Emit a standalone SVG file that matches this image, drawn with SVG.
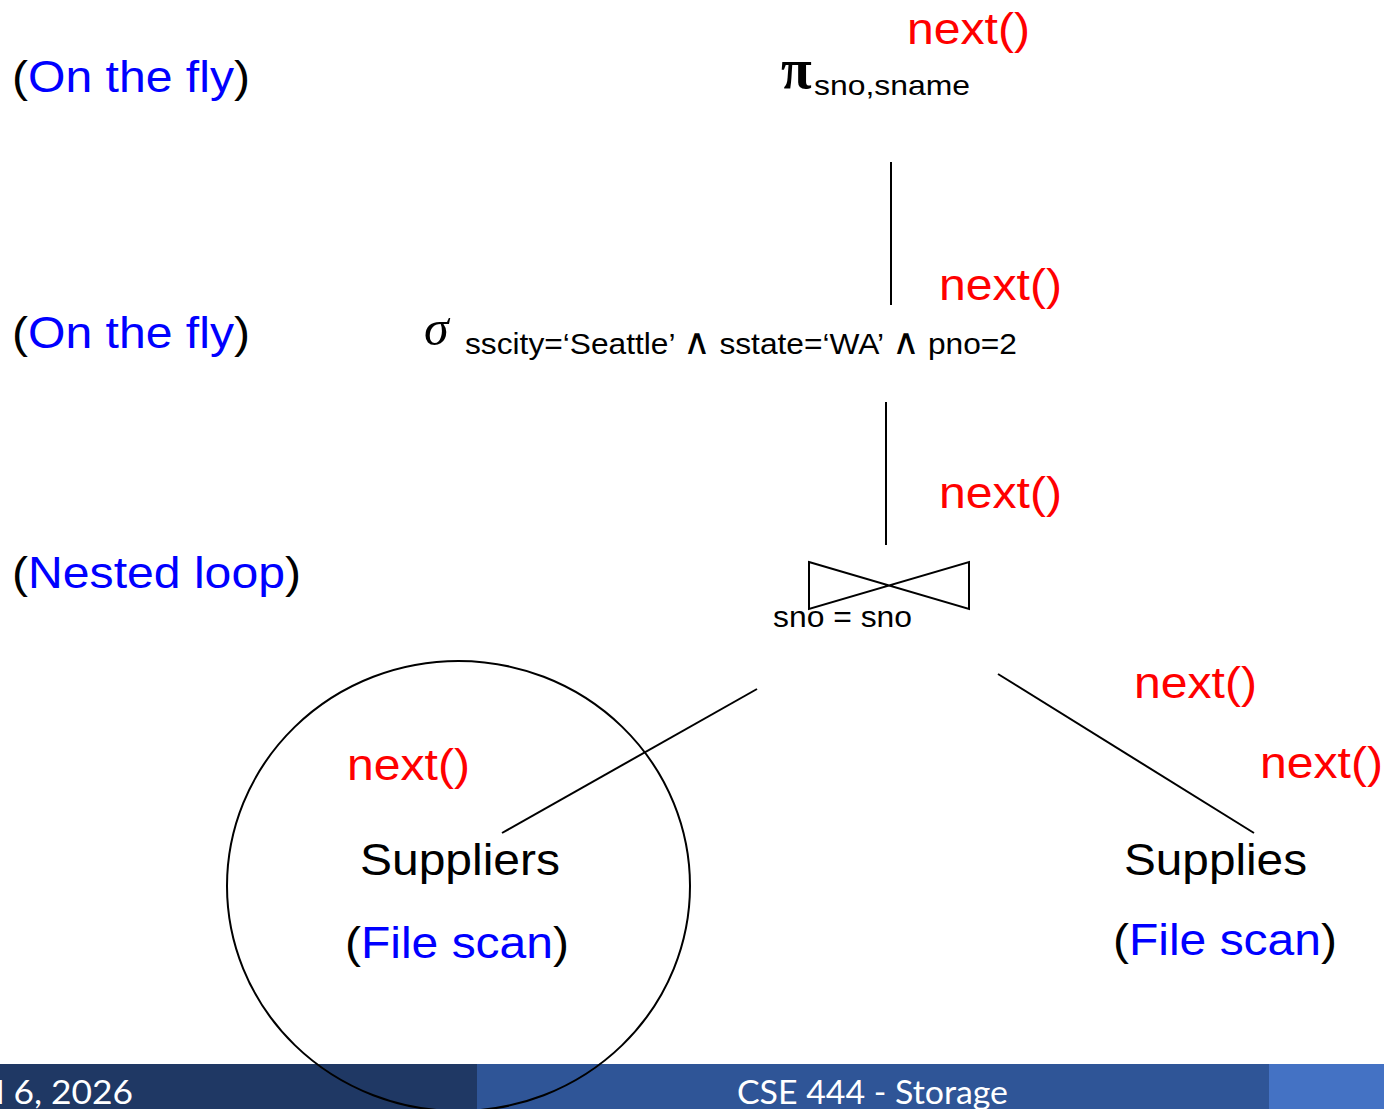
<svg xmlns="http://www.w3.org/2000/svg" width="1384" height="1109" viewBox="0 0 1384 1109">
<style>
.big{font-family:"Liberation Sans",Arial,sans-serif;font-size:45px;fill:#000}
.red{fill:#FF0000}
.blue{fill:#0000FF}
.sub{font-family:"Liberation Sans",Arial,sans-serif;fill:#000}
.and{font-family:"DejaVu Sans",sans-serif;font-size:36px;font-weight:200}
.ln{stroke:#000;stroke-width:2;fill:none}
.foot{font-family:Lato,"Open Sans",sans-serif;font-size:33px;fill:#fff}
</style>
<rect width="1384" height="1109" fill="#fff"/>
<g id="footer">
<rect x="0" y="1064" width="477" height="45" fill="#1F3864"/>
<rect x="477" y="1064" width="792" height="45" fill="#2F5597"/>
<rect x="1269" y="1064" width="115" height="45" fill="#4472C4"/>
<text class="foot" x="-4" y="1104" textLength="137" lengthAdjust="spacingAndGlyphs">l 6, 2026</text>
<text class="foot" x="737" y="1104" textLength="271" lengthAdjust="spacingAndGlyphs">CSE 444 - Storage</text>
</g>
<g id="labels">
<text class="big" x="12" y="92" textLength="238" lengthAdjust="spacingAndGlyphs">(<tspan class="blue">On the fly</tspan>)</text>
<text class="big" x="12" y="348" textLength="238" lengthAdjust="spacingAndGlyphs">(<tspan class="blue">On the fly</tspan>)</text>
<text class="big" x="12" y="588" textLength="289" lengthAdjust="spacingAndGlyphs">(<tspan class="blue">Nested loop</tspan>)</text>
</g>
<g id="connectors">
<line class="ln" x1="891" y1="162" x2="891" y2="305"/>
<line class="ln" x1="886" y1="402" x2="886" y2="545"/>
<line class="ln" x1="757" y1="689" x2="502" y2="833"/>
<line class="ln" x1="998" y1="674" x2="1254" y2="833"/>
</g>
<g id="project">
<text x="781" y="88" font-family="'Liberation Serif',serif" font-weight="bold" font-size="56">π</text>
<text class="sub" x="814" y="95" font-size="28" textLength="156" lengthAdjust="spacingAndGlyphs">sno,sname</text>
<text class="big red" x="907" y="44" textLength="123" lengthAdjust="spacingAndGlyphs">next()</text>
</g>
<g id="select">
<text x="424" y="345" font-family="'Liberation Serif',serif" font-style="italic" font-size="50">σ</text>
<text class="sub" x="465" y="354" font-size="30" textLength="552" lengthAdjust="spacingAndGlyphs">sscity=‘Seattle’ <tspan class="and">∧</tspan> sstate=‘WA’ <tspan class="and">∧</tspan> pno=2</text>
<text class="big red" x="939" y="300" textLength="123" lengthAdjust="spacingAndGlyphs">next()</text>
</g>
<g id="join">
<path class="ln" d="M809,562 L969,609 L969,562 L809,609 Z"/>
<text class="sub" x="773" y="627" font-size="30" textLength="139" lengthAdjust="spacingAndGlyphs">sno = sno</text>
<text class="big red" x="939" y="508" textLength="123" lengthAdjust="spacingAndGlyphs">next()</text>
<text class="big red" x="1134" y="698" textLength="123" lengthAdjust="spacingAndGlyphs">next()</text>
</g>
<g id="suppliers">
<text class="big red" x="347" y="780" textLength="123" lengthAdjust="spacingAndGlyphs">next()</text>
<text class="big" x="360" y="875" textLength="200" lengthAdjust="spacingAndGlyphs">Suppliers</text>
<text class="big" x="345" y="958" textLength="224" lengthAdjust="spacingAndGlyphs">(<tspan class="blue">File scan</tspan>)</text>
</g>
<g id="supplies">
<text class="big red" x="1260" y="778" textLength="123" lengthAdjust="spacingAndGlyphs">next()</text>
<text class="big" x="1124" y="875" textLength="183" lengthAdjust="spacingAndGlyphs">Supplies</text>
<text class="big" x="1113" y="955" textLength="224" lengthAdjust="spacingAndGlyphs">(<tspan class="blue">File scan</tspan>)</text>
</g>
<ellipse id="highlight" class="ln" cx="458.5" cy="886" rx="231.5" ry="225"/>
</svg>
